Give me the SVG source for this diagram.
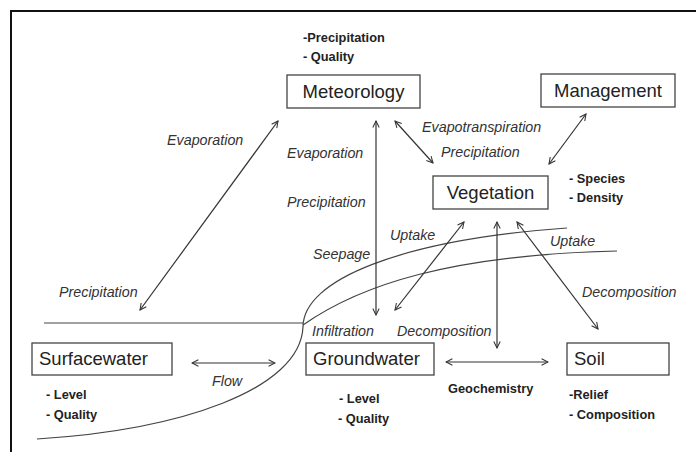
<svg xmlns="http://www.w3.org/2000/svg" width="696" height="452" viewBox="0 0 696 452">
<style>
.box{fill:#fff;stroke:#444;stroke-width:1.3}
.bt{font-family:"Liberation Sans",Arial,sans-serif;font-size:18.5px;fill:#222}
.lab{font-family:"Liberation Sans",Arial,sans-serif;font-size:14.3px;font-style:italic;fill:#333}
.att{font-family:"Liberation Sans",Arial,sans-serif;font-size:12.8px;font-weight:bold;fill:#222}
.ln{fill:none;stroke:#333;stroke-width:1.2}
.cv{fill:none;stroke:#444;stroke-width:1.2}
.ar{fill:none;stroke:#333;stroke-width:1.2;marker-start:url(#ah);marker-end:url(#ah)}
</style>
<defs>
<marker id="ah" viewBox="0 0 10 10" refX="9" refY="5" markerWidth="8" markerHeight="8" markerUnits="userSpaceOnUse" orient="auto-start-reverse">
<path d="M1,1 L9,5 L1,9" fill="none" stroke="#333" stroke-width="1.3"/>
</marker>
</defs>
<rect width="696" height="452" fill="#fff"/>
<rect x="11" y="11" width="700" height="470" fill="none" stroke="#111" stroke-width="2"/>

<g id="lines">
<line class="cv" x1="44" y1="323" x2="303" y2="323"/>
<path class="cv" d="M37,439 C180,430 300,390 303,327 C303,280 400,240 567,228"/>
<path class="cv" d="M303,325 C360,285 450,255 617,251"/>
</g>

<g id="connectors">
<line class="ar" x1="140" y1="310" x2="278" y2="121"/>
<line class="ar" x1="376" y1="121" x2="376" y2="315"/>
<line class="ar" x1="395" y1="121" x2="433" y2="163"/>
<line class="ar" x1="586" y1="114" x2="549" y2="164"/>
<line class="ar" x1="464" y1="222" x2="395" y2="310"/>
<line class="ar" x1="497" y1="222" x2="497" y2="348"/>
<line class="ar" x1="517" y1="222" x2="598" y2="329"/>
<line class="ar" x1="192" y1="363" x2="275" y2="363"/>
<line class="ar" x1="446" y1="362" x2="548" y2="362"/>
</g>

<g id="labels">
<text class="lab" x="167" y="145">Evaporation</text>
<text class="lab" x="287" y="158">Evaporation</text>
<text class="lab" x="287" y="207">Precipitation</text>
<text class="lab" x="422" y="132">Evapotranspiration</text>
<text class="lab" x="441" y="157">Precipitation</text>
<text class="lab" x="59" y="297">Precipitation</text>
<text class="lab" x="313" y="259">Seepage</text>
<text class="lab" x="390" y="240">Uptake</text>
<text class="lab" x="550" y="246">Uptake</text>
<text class="lab" x="582" y="297">Decomposition</text>
<text class="lab" x="312" y="336">Infiltration</text>
<text class="lab" x="397" y="336">Decomposition</text>
<text class="lab" x="212" y="386">Flow</text>
<text class="att" x="448" y="393">Geochemistry</text>
</g>

<g id="meteorology">
<rect class="box" x="287" y="75" width="133" height="33"/>
<text class="bt" x="353.5" y="98" text-anchor="middle">Meteorology</text>
<text class="att" x="303" y="42">-Precipitation</text>
<text class="att" x="303" y="61">- Quality</text>
</g>

<g id="management">
<rect class="box" x="541" y="74" width="134" height="33"/>
<text class="bt" x="608" y="97" text-anchor="middle">Management</text>
</g>

<g id="vegetation">
<rect class="box" x="433" y="176" width="115" height="33"/>
<text class="bt" x="490.5" y="199" text-anchor="middle">Vegetation</text>
<text class="att" x="569" y="183">- Species</text>
<text class="att" x="569" y="202">- Density</text>
</g>

<g id="surfacewater">
<rect class="box" x="32" y="343" width="140" height="32"/>
<text class="bt" x="39" y="365">Surfacewater</text>
<text class="att" x="46" y="399">- Level</text>
<text class="att" x="46" y="419">- Quality</text>
</g>

<g id="groundwater">
<rect class="box" x="306" y="343" width="128" height="32"/>
<text class="bt" x="313" y="365">Groundwater</text>
<text class="att" x="339" y="403">- Level</text>
<text class="att" x="338" y="423">- Quality</text>
</g>

<g id="soil">
<rect class="box" x="567" y="343" width="102" height="32"/>
<text class="bt" x="574" y="365">Soil</text>
<text class="att" x="569" y="399">-Relief</text>
<text class="att" x="569" y="419">- Composition</text>
</g>
</svg>
